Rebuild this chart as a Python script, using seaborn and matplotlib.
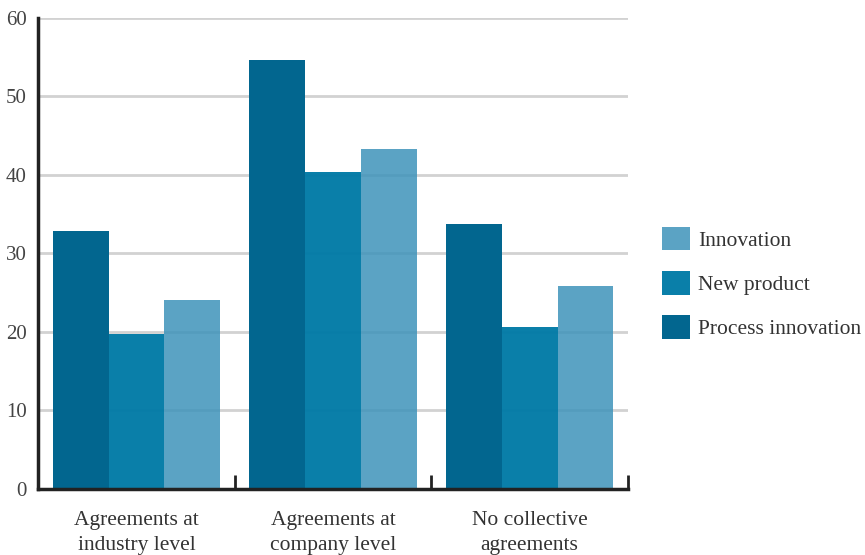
import pandas as pd
import matplotlib.pyplot as plt
import seaborn as sns

categories = ["Agreements at\nindustry level", "Agreements at\ncompany level", "No collective\nagreements"]
series = ["Process innovation", "New product", "Innovation"]
process_innovation = [32.9, 54.6, 33.8]
new_product = [19.7, 40.4, 20.6]
innovation = [24.1, 43.3, 25.9]
colores = ["#02668f", "#007aa6", "#3e93ba"]
transparencias = [1.0, 0.96, 0.85]
y_ticks = [0, 10, 20, 30, 40, 50, 60]

df = pd.DataFrame({
    "categoria": categories * 3,
    "tipo": [series[0]] * 3 + [series[1]] * 3 + [series[2]] * 3,
    "valor": process_innovation + new_product + innovation,
})

sns.set_style("white")
plt.rcParams["font.family"] = ["Liberation Serif", "DejaVu Serif"]
plt.rcParams["text.color"] = "#333333"

fig = plt.figure(figsize=(8.65, 5.55), dpi=100)
ax = fig.add_axes([0.044, 0.119, 0.682, 0.849])

ax.set_axisbelow(True)
ax.yaxis.grid(True, color="#d2d2d2", linewidth=2)
sns.barplot(data=df, x="categoria", y="valor", hue="tipo", hue_order=series,
            palette=colores, width=0.85, saturation=1, linewidth=0, ax=ax)

# transparencia por serie (las líneas de la rejilla se ven a través de las barras claras)
for cont, a in zip(ax.containers, transparencias):
    for barra in cont:
        barra.set_alpha(a)

ax.set_ylim(0, 60)
ax.set_xlim(-0.5, 2.5)
ax.set_yticks(y_ticks)
ax.tick_params(axis="y", length=0, labelsize=15, labelcolor="#444444", pad=8)
ax.tick_params(axis="x", length=0, labelsize=15.5, labelcolor="#333333", pad=16)
for lbl in ax.get_xticklabels():
    lbl.set_linespacing(1.45)
ax.set_xticks([0.5, 1.5, 2.5], minor=True)
ax.tick_params(axis="x", which="minor", bottom=True, direction="in", length=10,
               width=2, color="#222222")
ax.set_xlabel("")
ax.set_ylabel("")

for s in ["top", "right"]:
    ax.spines[s].set_visible(False)
for s in ["left", "bottom"]:
    ax.spines[s].set_color("#222222")
    ax.spines[s].set_linewidth(2.5)

handles, labels = ax.get_legend_handles_labels()
leg = ax.legend(handles[::-1], labels[::-1], loc="center left", bbox_to_anchor=(0.765, 0.49),
                bbox_transform=fig.transFigure, frameon=False, fontsize=15.5,
                handlelength=1.3, handleheight=1.3, labelspacing=0.95, handletextpad=0.4,
                borderpad=0, borderaxespad=0)
for h, a in zip(leg.legend_handles, transparencias[::-1]):
    h.set_alpha(a)

fig.savefig("out.png", dpi=100)
